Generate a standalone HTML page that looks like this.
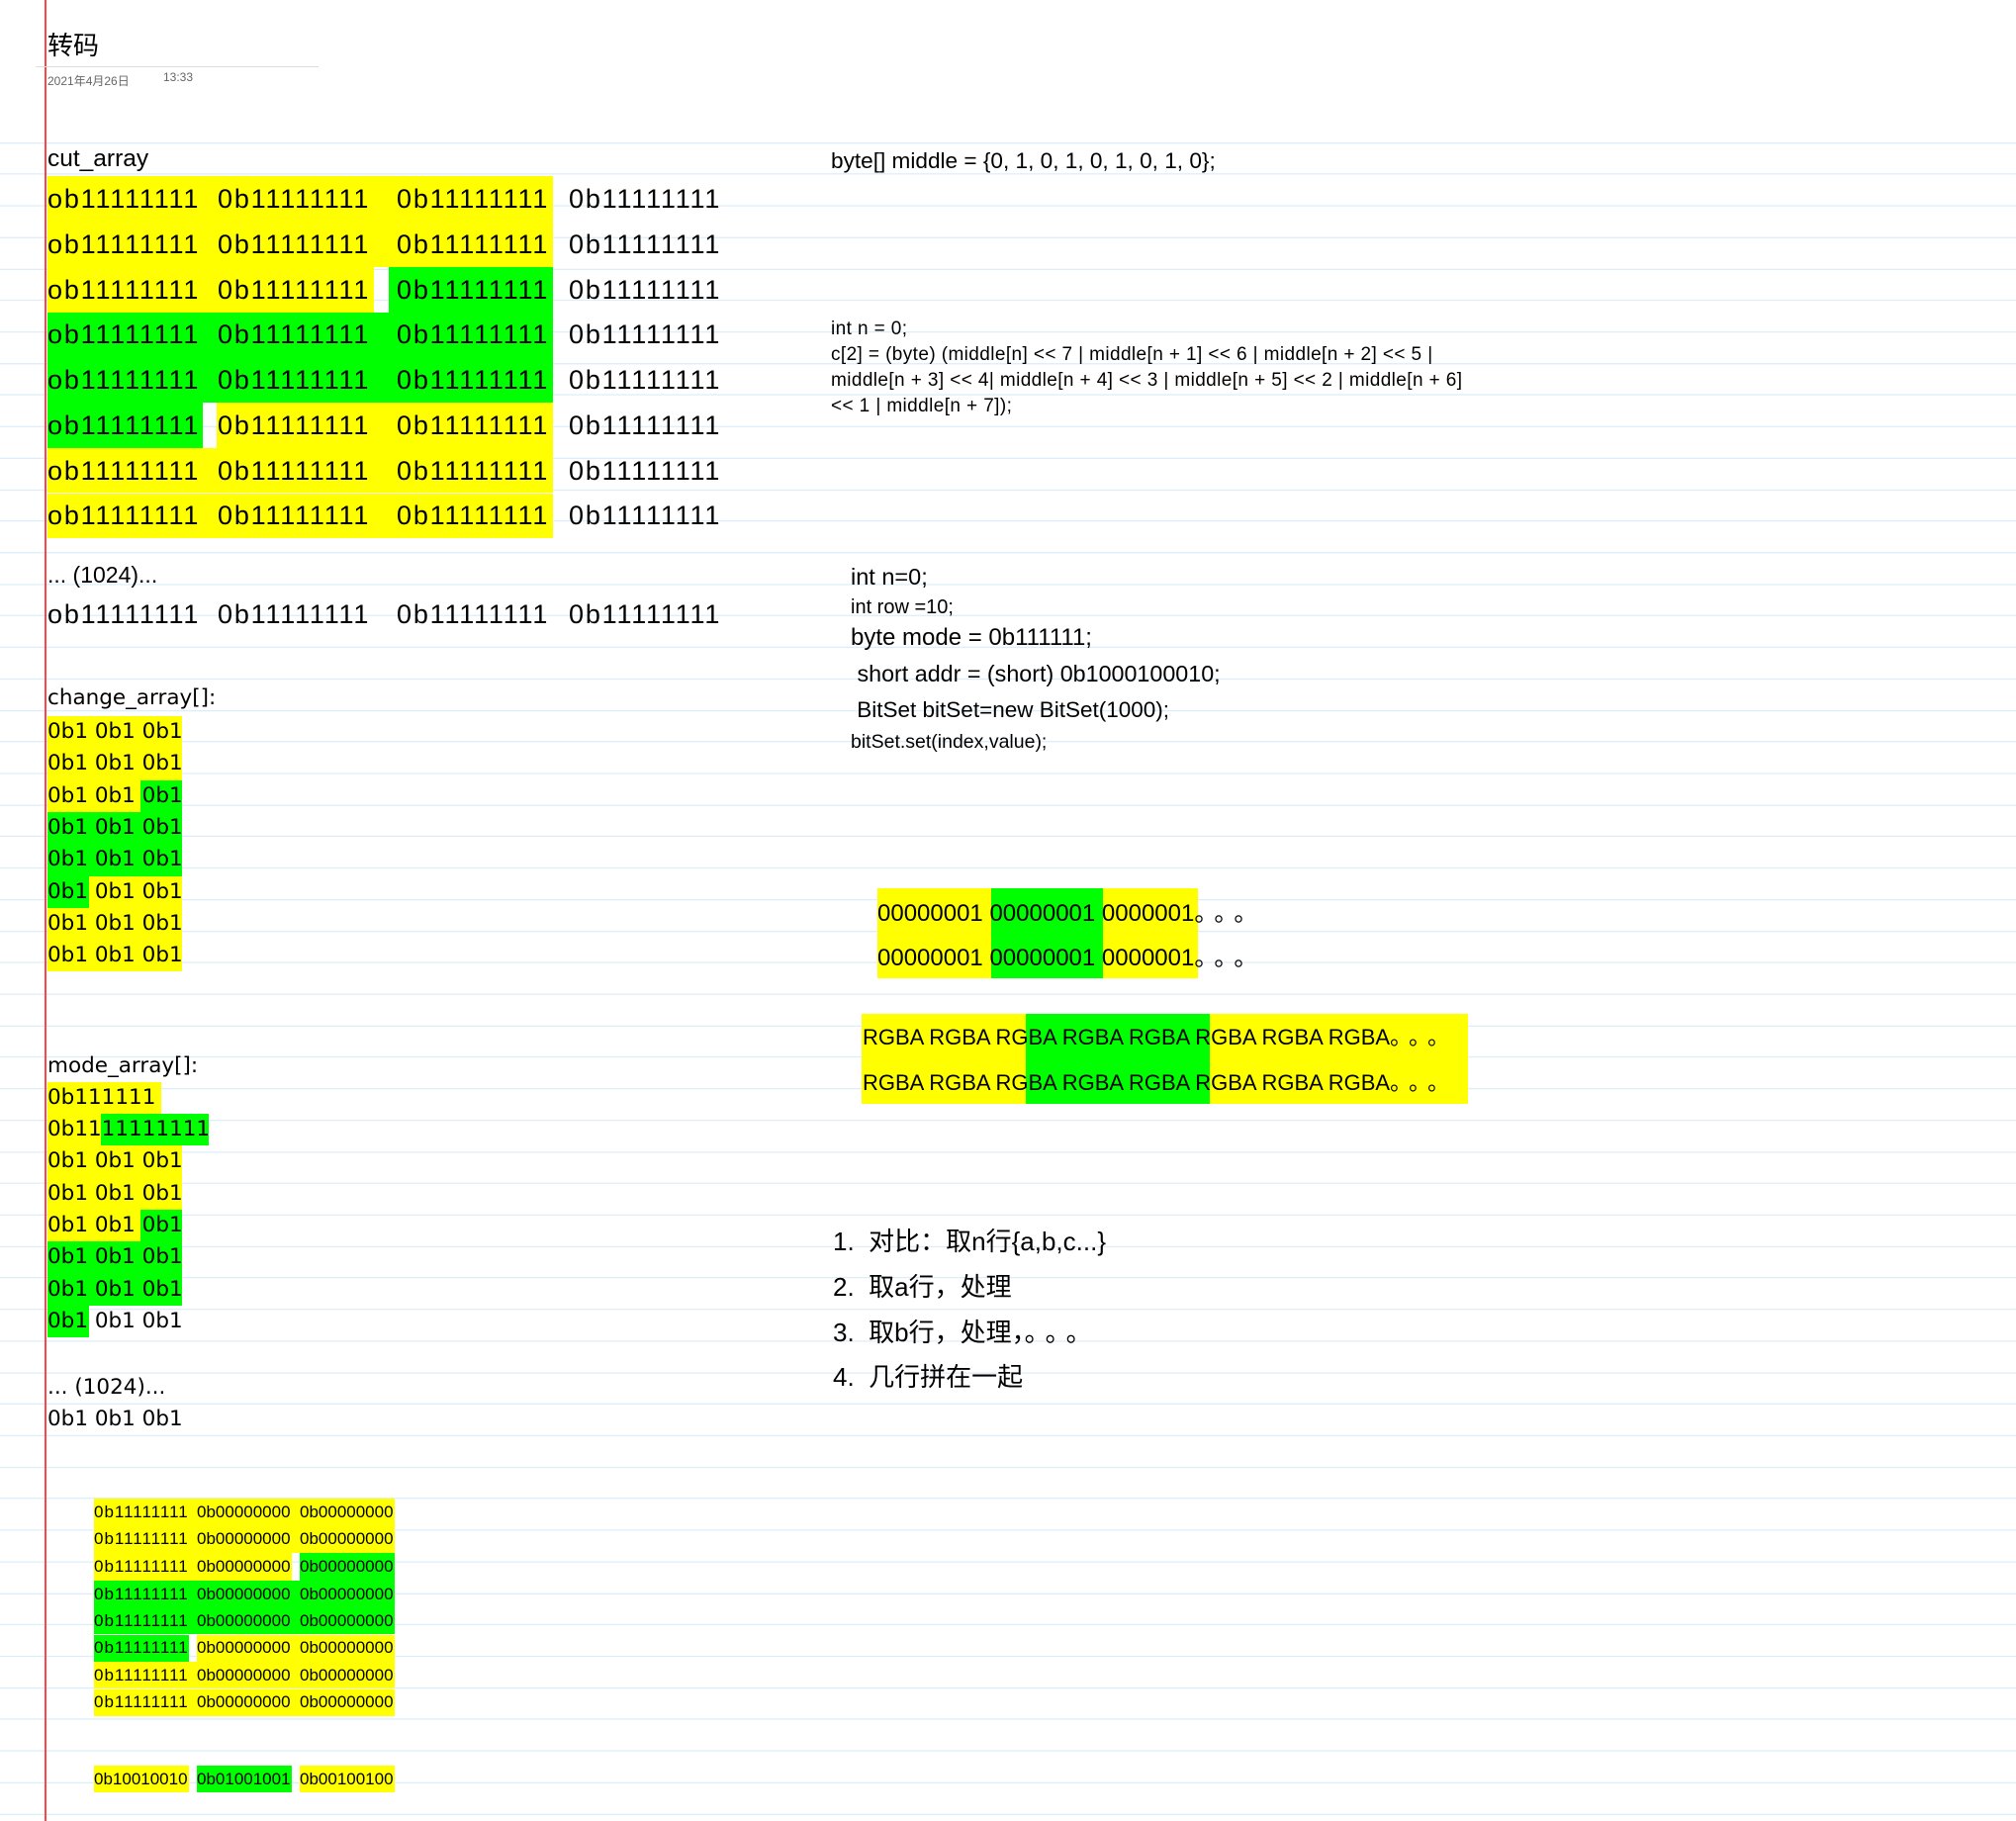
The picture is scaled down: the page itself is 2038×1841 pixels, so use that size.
<!DOCTYPE html>
<html><head><meta charset="utf-8">
<style>
body{margin:0;}
#p{position:relative;width:2038px;height:1841px;overflow:hidden;background:#fff;
background-image:repeating-linear-gradient(to bottom,transparent 0,transparent 30.88px,#cfe8f7 30.88px,#cfe8f7 31.88px);
background-position:0 113px;font-family:"Liberation Sans","Noto Sans CJK SC",sans-serif;color:#000;}
#top{position:absolute;left:0;top:0;width:2038px;height:143px;background:#fff;}
#red{position:absolute;left:45px;top:0;width:2px;height:1841px;background:#f44;}
.a{position:absolute;white-space:pre;}
.y{position:absolute;background:#ffff00;}
.g{position:absolute;background:#00ff00;}
.c{font-size:27px;line-height:46px;height:46px;letter-spacing:1.8px;}
.d{font-family:"DejaVu Sans",sans-serif;font-size:21.5px;line-height:32px;}
.e{font-size:17px;line-height:27px;}
.e1{letter-spacing:1px;}
.dots{font-family:"Noto Sans CJK SC",sans-serif;letter-spacing:8px;}
</style></head><body><div id="p">
<div id="top"></div>
<div id="red"></div>
<div style="position:absolute;left:36px;top:67px;width:286px;height:1px;background:#ddd"></div>
<div class="a" style="left:48px;top:26px;font-size:26px">转码</div>
<div class="a" style="left:48px;top:73px;font-size:12px;color:#666">2021年4月26日</div>
<div class="a" style="left:165px;top:71px;font-size:12px;color:#666">13:33</div>

<div class="a" style="left:48px;top:147px;font-size:24.5px">cut_array</div>
<div class="y" style="left:48px;top:178px;width:511px;height:92px"></div>
<div class="y" style="left:48px;top:270px;width:330px;height:46px"></div>
<div class="g" style="left:393px;top:270px;width:166px;height:46px"></div>
<div class="g" style="left:48px;top:316px;width:511px;height:91px"></div>
<div class="g" style="left:48px;top:407px;width:157px;height:46px"></div>
<div class="y" style="left:219px;top:407px;width:340px;height:46px"></div>
<div class="y" style="left:48px;top:453px;width:511px;height:45px"></div>
<div class="y" style="left:48px;top:499px;width:511px;height:45px"></div>
<div class="a c" style="left:48px;top:178px">ob11111111</div><div class="a c" style="left:220px;top:178px">0b11111111</div><div class="a c" style="left:401px;top:178px">0b11111111</div><div class="a c" style="left:575px;top:178px">0b11111111</div>
<div class="a c" style="left:48px;top:224px">ob11111111</div><div class="a c" style="left:220px;top:224px">0b11111111</div><div class="a c" style="left:401px;top:224px">0b11111111</div><div class="a c" style="left:575px;top:224px">0b11111111</div>
<div class="a c" style="left:48px;top:270px">ob11111111</div><div class="a c" style="left:220px;top:270px">0b11111111</div><div class="a c" style="left:401px;top:270px">0b11111111</div><div class="a c" style="left:575px;top:270px">0b11111111</div>
<div class="a c" style="left:48px;top:315px">ob11111111</div><div class="a c" style="left:220px;top:315px">0b11111111</div><div class="a c" style="left:401px;top:315px">0b11111111</div><div class="a c" style="left:575px;top:315px">0b11111111</div>
<div class="a c" style="left:48px;top:361px">ob11111111</div><div class="a c" style="left:220px;top:361px">0b11111111</div><div class="a c" style="left:401px;top:361px">0b11111111</div><div class="a c" style="left:575px;top:361px">0b11111111</div>
<div class="a c" style="left:48px;top:407px">ob11111111</div><div class="a c" style="left:220px;top:407px">0b11111111</div><div class="a c" style="left:401px;top:407px">0b11111111</div><div class="a c" style="left:575px;top:407px">0b11111111</div>
<div class="a c" style="left:48px;top:453px">ob11111111</div><div class="a c" style="left:220px;top:453px">0b11111111</div><div class="a c" style="left:401px;top:453px">0b11111111</div><div class="a c" style="left:575px;top:453px">0b11111111</div>
<div class="a c" style="left:48px;top:498px">ob11111111</div><div class="a c" style="left:220px;top:498px">0b11111111</div><div class="a c" style="left:401px;top:498px">0b11111111</div><div class="a c" style="left:575px;top:498px">0b11111111</div>
<div class="a" style="left:48px;top:568px;font-size:23px">... (1024)...</div>
<div class="a c" style="left:48px;top:598px">ob11111111</div><div class="a c" style="left:220px;top:598px">0b11111111</div><div class="a c" style="left:401px;top:598px">0b11111111</div><div class="a c" style="left:575px;top:598px">0b11111111</div>

<div class="a d" style="left:48px;top:690px">change_array[]:</div>
<div class="y" style="left:48px;top:724px;width:136px;height:65px"></div>
<div class="y" style="left:48px;top:789px;width:94px;height:32px"></div>
<div class="g" style="left:142px;top:789px;width:42px;height:32px"></div>
<div class="g" style="left:48px;top:821px;width:136px;height:65px"></div>
<div class="g" style="left:48px;top:886px;width:42px;height:32px"></div>
<div class="y" style="left:90px;top:886px;width:94px;height:32px"></div>
<div class="y" style="left:48px;top:918px;width:136px;height:64px"></div>
<div class="a d" style="left:48px;top:724px">0b1 0b1 0b1</div>
<div class="a d" style="left:48px;top:756px">0b1 0b1 0b1</div>
<div class="a d" style="left:48px;top:789px">0b1 0b1 0b1</div>
<div class="a d" style="left:48px;top:821px">0b1 0b1 0b1</div>
<div class="a d" style="left:48px;top:853px">0b1 0b1 0b1</div>
<div class="a d" style="left:48px;top:886px">0b1 0b1 0b1</div>
<div class="a d" style="left:48px;top:918px">0b1 0b1 0b1</div>
<div class="a d" style="left:48px;top:950px">0b1 0b1 0b1</div>

<div class="a d" style="left:48px;top:1062px">mode_array[]:</div>
<div class="y" style="left:48px;top:1094px;width:115px;height:32px"></div>
<div class="y" style="left:48px;top:1126px;width:54px;height:32px"></div>
<div class="g" style="left:102px;top:1126px;width:109px;height:32px"></div>
<div class="y" style="left:48px;top:1158px;width:136px;height:65px"></div>
<div class="y" style="left:48px;top:1223px;width:94px;height:32px"></div>
<div class="g" style="left:142px;top:1223px;width:42px;height:32px"></div>
<div class="g" style="left:48px;top:1255px;width:136px;height:65px"></div>
<div class="g" style="left:48px;top:1320px;width:42px;height:32px"></div>
<div class="a d" style="left:48px;top:1094px">0b111111</div>
<div class="a d" style="left:48px;top:1126px">0b1111111111</div>
<div class="a d" style="left:48px;top:1158px">0b1 0b1 0b1</div>
<div class="a d" style="left:48px;top:1191px">0b1 0b1 0b1</div>
<div class="a d" style="left:48px;top:1223px">0b1 0b1 0b1</div>
<div class="a d" style="left:48px;top:1255px">0b1 0b1 0b1</div>
<div class="a d" style="left:48px;top:1288px">0b1 0b1 0b1</div>
<div class="a d" style="left:48px;top:1320px">0b1 0b1 0b1</div>
<div class="a d" style="left:48px;top:1387px">... (1024)...</div>
<div class="a d" style="left:48px;top:1419px">0b1 0b1 0b1</div>

<div class="y" style="left:95px;top:1515px;width:304px;height:55px"></div>
<div class="y" style="left:95px;top:1570px;width:200px;height:28px"></div>
<div class="g" style="left:303px;top:1570px;width:96px;height:28px"></div>
<div class="g" style="left:95px;top:1598px;width:304px;height:54px"></div>
<div class="g" style="left:95px;top:1653px;width:96px;height:27px"></div>
<div class="y" style="left:199px;top:1653px;width:200px;height:27px"></div>
<div class="y" style="left:95px;top:1680px;width:304px;height:27px"></div>
<div class="y" style="left:95px;top:1708px;width:304px;height:27px"></div>
<div class="a e e1" style="left:95px;top:1515px">0b11111111</div><div class="a e" style="left:199px;top:1515px">0b00000000</div><div class="a e" style="left:303px;top:1515px">0b00000000</div>
<div class="a e e1" style="left:95px;top:1542px">0b11111111</div><div class="a e" style="left:199px;top:1542px">0b00000000</div><div class="a e" style="left:303px;top:1542px">0b00000000</div>
<div class="a e e1" style="left:95px;top:1570px">0b11111111</div><div class="a e" style="left:199px;top:1570px">0b00000000</div><div class="a e" style="left:303px;top:1570px">0b00000000</div>
<div class="a e e1" style="left:95px;top:1598px">0b11111111</div><div class="a e" style="left:199px;top:1598px">0b00000000</div><div class="a e" style="left:303px;top:1598px">0b00000000</div>
<div class="a e e1" style="left:95px;top:1625px">0b11111111</div><div class="a e" style="left:199px;top:1625px">0b00000000</div><div class="a e" style="left:303px;top:1625px">0b00000000</div>
<div class="a e e1" style="left:95px;top:1652px">0b11111111</div><div class="a e" style="left:199px;top:1652px">0b00000000</div><div class="a e" style="left:303px;top:1652px">0b00000000</div>
<div class="a e e1" style="left:95px;top:1680px">0b11111111</div><div class="a e" style="left:199px;top:1680px">0b00000000</div><div class="a e" style="left:303px;top:1680px">0b00000000</div>
<div class="a e e1" style="left:95px;top:1707px">0b11111111</div><div class="a e" style="left:199px;top:1707px">0b00000000</div><div class="a e" style="left:303px;top:1707px">0b00000000</div>
<div class="y" style="left:95px;top:1785px;width:96px;height:27px"></div>
<div class="g" style="left:199px;top:1785px;width:96px;height:27px"></div>
<div class="y" style="left:303px;top:1785px;width:96px;height:27px"></div>
<div class="a e" style="left:95px;top:1785px">0b10010010</div>
<div class="a e" style="left:199px;top:1785px">0b01001001</div>
<div class="a e" style="left:303px;top:1785px">0b00100100</div>

<div class="a" style="left:840px;top:150px;font-size:22.6px">byte[] middle = {0, 1, 0, 1, 0, 1, 0, 1, 0};</div>
<div class="a" style="left:840px;top:320px;font-size:19px;line-height:26px;letter-spacing:0.4px">int n = 0;
c[2] = (byte) (middle[n] &lt;&lt; 7 | middle[n + 1] &lt;&lt; 6 | middle[n + 2] &lt;&lt; 5 |
middle[n + 3] &lt;&lt; 4| middle[n + 4] &lt;&lt; 3 | middle[n + 5] &lt;&lt; 2 | middle[n + 6]
&lt;&lt; 1 | middle[n + 7]);</div>
<div class="a" style="left:860px;top:570px;font-size:23.5px">int n=0;</div>
<div class="a" style="left:860px;top:603px;font-size:20px">int row =10;</div>
<div class="a" style="left:860px;top:631px;font-size:24px">byte mode = 0b111111;</div>
<div class="a" style="left:860px;top:668px;font-size:23.3px"> short addr = (short) 0b1000100010;</div>
<div class="a" style="left:860px;top:705px;font-size:22.5px"> BitSet bitSet=new BitSet(1000);</div>
<div class="a" style="left:860px;top:739px;font-size:19.5px">bitSet.set(index,value);</div>

<div class="y" style="left:887px;top:898px;width:115px;height:91px"></div>
<div class="g" style="left:1002px;top:898px;width:113px;height:91px"></div>
<div class="y" style="left:1115px;top:898px;width:96px;height:91px"></div>
<div class="a" style="left:887px;top:903px;font-size:24px">00000001 00000001 0000001<span class="dots">。。。</span></div>
<div class="a" style="left:887px;top:948px;font-size:24px">00000001 00000001 0000001<span class="dots">。。。</span></div>

<div class="y" style="left:871px;top:1025px;width:166px;height:91px"></div>
<div class="g" style="left:1037px;top:1025px;width:186px;height:91px"></div>
<div class="y" style="left:1223px;top:1025px;width:261px;height:91px"></div>
<div class="a" style="left:872px;top:1031px;font-size:22px">RGBA RGBA RGBA RGBA RGBA RGBA RGBA RGBA<span class="dots">。。。</span></div>
<div class="a" style="left:872px;top:1077px;font-size:22px">RGBA RGBA RGBA RGBA RGBA RGBA RGBA RGBA<span class="dots">。。。</span></div>

<div class="a" style="left:842px;top:1235px;font-size:26px">1.  对比：取n行{a,b,c...}</div>
<div class="a" style="left:842px;top:1281px;font-size:26px">2.  取a行，处理</div>
<div class="a" style="left:842px;top:1327px;font-size:26px">3.  取b行，处理，<span class="dots">。。。</span></div>
<div class="a" style="left:842px;top:1372px;font-size:26px">4.  几行拼在一起</div>
</div></body></html>
